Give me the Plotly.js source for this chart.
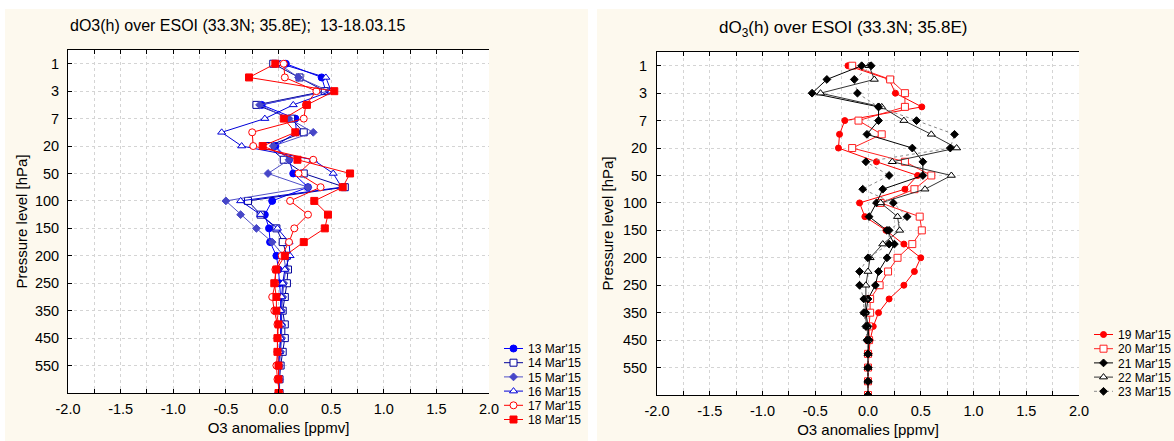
<!DOCTYPE html>
<html>
<head>
<meta charset="utf-8">
<script src="https://cdn.plot.ly/plotly-3.0.1.min.js"></script>
<style>
html,body{margin:0;padding:0;background:#ffffff;width:1174px;height:441px;overflow:hidden;}
#p1{position:absolute;left:5px;top:9px;width:583px;height:432px;}
#p2{position:absolute;left:597px;top:9px;width:577px;height:432px;}
</style>
</head>
<body>
<div id="p1"></div>
<div id="p2"></div>
<script>
// Pressure levels (hPa) in plotting order, and the ones that carry labels
const levels = ['1','2','3','5','7','10','20','30','50','70','100','125','150','175','200','225','250','300','350','400','450','500','550','600','650'];
const levelTicks = ['1','3','7','20','50','100','150','200','250','350','450','550'];
const oddTicks = [1,3,5,7,9,11,13,15,17,19,21,23];

// Left panel: 13-18 Mar 2015 ozone anomalies [ppmv]
const names1 = ["13 Mar'15","14 Mar'15","15 Mar'15","16 Mar'15","17 Mar'15","18 Mar'15"];
const d13 = [0.07,0.41,0.45,-0.16,0.16,0.17,-0.03,0.10,0.14,0.28,-0.06,-0.13,-0.09,-0.08,-0.02,0.00,0.01,0.02,0.02,0.02,0.02,0.01,0.00,0.00,0.00];
const d14 = [-0.05,0.20,0.44,-0.21,0.12,0.24,-0.10,0.05,0.24,0.63,-0.29,-0.17,-0.02,0.04,0.08,0.09,0.08,0.06,0.04,0.06,0.06,0.04,0.02,0.01,0.01];
const d15 = [0.00,0.19,0.48,-0.18,0.10,0.33,-0.05,0.10,-0.10,0.28,-0.50,-0.36,-0.21,-0.06,0.05,0.07,0.05,0.04,0.03,0.03,0.03,0.02,0.01,0.01,0.00];
const d16 = [0.02,0.45,0.50,0.14,-0.13,-0.54,-0.35,0.33,0.52,0.60,-0.36,-0.17,-0.01,0.10,0.11,0.06,0.04,0.03,0.02,0.03,0.02,0.01,0.00,0.00,0.00];
const d17 = [0.05,0.06,0.36,0.26,0.24,-0.25,-0.24,0.33,0.19,0.40,0.11,0.28,0.15,0.10,0.03,-0.03,-0.03,-0.06,-0.04,-0.01,-0.01,-0.01,-0.02,-0.01,0.01];
const d18 = [-0.03,-0.28,0.53,0.27,0.05,0.16,-0.15,0.18,0.68,0.61,0.34,0.47,0.44,0.24,0.06,-0.02,-0.04,-0.02,-0.02,0.00,-0.01,-0.01,0.00,0.00,0.00];

// Right panel: 19-23 Mar 2015
const names2 = ["19 Mar'15","20 Mar'15","21 Mar'15","22 Mar'15","23 Mar'15"];
const d19 = [-0.19,0.20,0.26,0.51,-0.22,-0.27,-0.28,0.08,0.47,0.35,-0.08,-0.03,0.17,0.34,0.50,0.44,0.34,0.20,0.10,0.05,0.02,0.01,0.00,0.00,0.00];
const d20 = [-0.15,0.21,0.35,0.35,-0.09,0.13,-0.15,0.35,0.60,0.44,0.12,0.49,0.51,0.42,0.28,0.19,0.11,0.02,0.02,0.01,0.01,0.00,0.00,0.00,0.00];
const d21 = [-0.06,-0.39,-0.53,0.10,0.10,-0.01,0.42,0.52,0.52,0.14,0.08,0.01,0.18,0.25,0.18,0.10,0.07,0.00,-0.02,0.00,0.01,0.00,0.00,0.00,0.00];
const d22 = [0.01,0.06,-0.45,0.13,0.34,0.60,0.84,0.23,0.79,0.54,0.12,0.28,0.30,0.14,0.02,0.00,-0.02,-0.02,-0.03,-0.01,0.00,0.00,0.00,0.00,0.00];
const d23 = [0.03,-0.13,-0.10,0.10,0.46,0.82,0.78,-0.02,0.20,-0.05,0.24,0.37,0.20,0.20,0.00,-0.08,-0.08,-0.04,-0.04,-0.02,-0.01,0.00,0.00,0.00,0.00];

const xTicks = [-2,-1.5,-1,-0.5,0,0.5,1,1.5,2];

const FONT = 'Liberation Sans, Arial, sans-serif';
const CREAM = '#fdf9ee';
const GRID = '#d4d4d4';

function tr(x, name, sym, mcol, fill, lcol, dash, size){
  return {
    type:'scatter', mode:'lines+markers', x:x, y:levels, name:name,
    line:{color:lcol, width:1, dash:dash||'solid'},
    marker:{symbol:sym, size:size||7, color:fill, line:{color:mcol, width:1}},
    cliponaxis:true
  };
}

function layoutFor(title, tsize, tx, ty, W, H, m, legX, legY, ystand, ytstand){
  return {
    width:W, height:H,
    margin:m,
    paper_bgcolor:CREAM, plot_bgcolor:'#ffffff',
    font:{family:FONT, size:14, color:'#000'},
    showlegend:true,
    title:{text:title, font:{family:FONT, size:tsize, color:'#000'}, xref:'container', x:tx/W, xanchor:'left', yref:'container', y:1-ty/H, yanchor:'middle'},
    xaxis:{
      range:[-2,2], tickvals:xTicks, ticktext:xTicks.map(v=>v.toFixed(1)),
      ticks:'inside', ticklen:4, tickcolor:'#000', mirror:'ticks',
      showline:true, linecolor:'#000', linewidth:1,
      showgrid:true, gridcolor:GRID, griddash:'dot', gridwidth:1, zeroline:false,
      minor:{dtick:0.25, tick0:0, showgrid:true, gridcolor:GRID, griddash:'dot', ticks:'inside', ticklen:4, tickcolor:'#000'},
      tickfont:{size:14.5}, ticklabelstandoff:3,
      title:{text:'O3 anomalies [ppmv]', font:{size:15}, standoff:6},
      fixedrange:true
    },
    yaxis:{
      type:'category', categoryorder:'array', categoryarray:levels,
      range:[levels.length-1, -1],
      tickvals:levelTicks, ticktext:levelTicks,
      ticks:'inside', ticklen:4, tickcolor:'#000',
      showline:true, linecolor:'#000', linewidth:1,
      showgrid:true, gridcolor:GRID, griddash:'dot', gridwidth:1, zeroline:false,
      tickfont:{size:14.5}, ticklabelstandoff:ystand,
      title:{text:'Pressure level [hPa]', font:{size:15}, standoff:ytstand},
      fixedrange:true
    },
    yaxis2:{
      overlaying:'y', side:'right', anchor:'x', type:'linear',
      range:[levels.length-1, -1], tickvals:oddTicks,
      ticks:'inside', ticklen:4, tickcolor:'#000', showticklabels:false,
      showline:true, linecolor:'#444', linewidth:2, showgrid:false, zeroline:false,
      fixedrange:true
    },
    legend:{xref:'container', yref:'container', x:legX/W, y:1-legY/H, xanchor:'left', yanchor:'top',
      bgcolor:'rgba(0,0,0,0)', font:{family:FONT, size:12, color:'#000'}, itemwidth:30, tracegroupgap:0},
    hovermode:false
  };
}

function tighten(gd, step){
  const items = gd.querySelectorAll('.legend .traces');
  items.forEach((g,i)=>{
    g.setAttribute('transform','translate(0,'+(9.5 + i*step)+')');
    const ln = g.querySelector('path.js-line');
    if(ln) ln.setAttribute('d','M5,0h19');
    const pts = g.querySelectorAll('.legendpoints path.scatterpts');
    pts.forEach(p=>p.setAttribute('transform','translate(14.5,0)'));
    const tx = g.querySelector('text.legendtext');
    if(tx) tx.setAttribute('x','29');
  });
}

const traces1 = [
  tr(d13, names1[0], 'circle', '#0000ff', '#0000ff', '#0000ff'),
  tr(d14, names1[1], 'square', '#00009a', '#ffffff', '#00009a'),
  tr(d15, names1[2], 'diamond', '#4646c8', '#4646c8', '#5050c8', 'solid', 6),
  tr(d16, names1[3], 'triangle-up', '#0000d8', '#ffffff', '#0000d8'),
  tr(d17, names1[4], 'circle', '#ff0000', '#ffffff', '#ff0000'),
  tr(d18, names1[5], 'square', '#ff0000', '#ff0000', '#ff0000')
];
const traces2 = [
  tr(d19, names2[0], 'circle', '#ff0000', '#ff0000', '#ff0000', 'solid', 6),
  tr(d20, names2[1], 'square', '#ff2020', '#ffffff', '#ff2020'),
  tr(d21, names2[2], 'diamond', '#000000', '#000000', '#000000', 'solid', 6),
  tr(d22, names2[3], 'triangle-up', '#000000', '#ffffff', '#333333'),
  tr(d23, names2[4], 'diamond', '#000000', '#000000', '#8a8a8a', 'dot', 6)
];

const L1 = layoutFor('dO3(h) over ESOI (33.3N; 35.8E);  13-18.03.15', 16, 65, 16, 583, 432, {l:63, r:99, t:41, b:48, pad:0}, 494, 330, 5, 3);
const L2 = layoutFor('dO<sub>3</sub>(h) over ESOI (33.3N; 35.8E)', 17, 122, 18, 577, 432, {l:60, r:95, t:43, b:46, pad:0}, 492, 316, 6, 5);

Plotly.newPlot('p1', traces1, L1, {staticPlot:true, displayModeBar:false}).then(gd=>tighten(gd,14.2));
Plotly.newPlot('p2', traces2, L2, {staticPlot:true, displayModeBar:false}).then(gd=>tighten(gd,14.2));
</script>
</body>
</html>
